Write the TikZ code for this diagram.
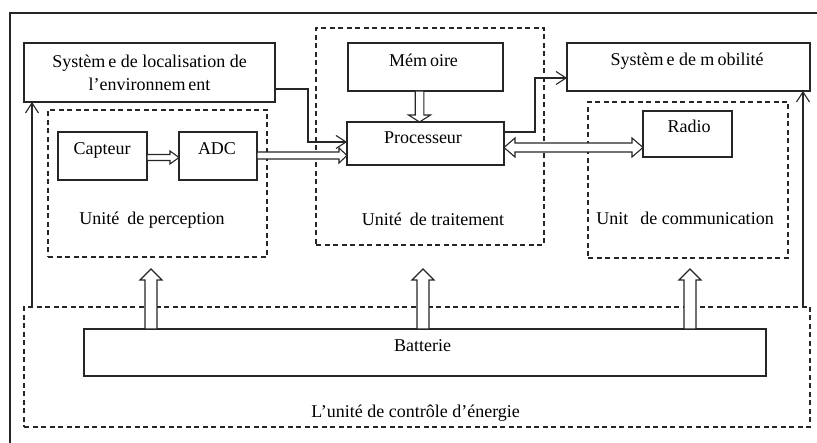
\documentclass[tikz,border=0pt]{standalone}
\usepackage{fontspec}
\setmainfont{Liberation Serif}
\usetikzlibrary{arrows.meta,calc}

\definecolor{ink}{HTML}{262626}

% small extra gap after some letters, as set in the figure
\newcommand\mg{\kern3pt}

% hollow block arrows: #1 tail, #2 tip, #3 shaft half width, #4 head half width, #5 head length
\newcommand\hollowR[5]{\draw[hol] ($#1+(0,-#3)$) -- ($#2+(-#5,-#3)$) -- ($#2+(-#5,-#4)$) -- #2 -- ($#2+(-#5,#4)$) -- ($#2+(-#5,#3)$) -- ($#1+(0,#3)$) -- cycle;}
\newcommand\hollowU[5]{\draw[hol] ($#1+(-#3,0)$) -- ($#2+(-#3,#5)$) -- ($#2+(-#4,#5)$) -- #2 -- ($#2+(#4,#5)$) -- ($#2+(#3,#5)$) -- ($#1+(#3,0)$) -- cycle;}
\newcommand\hollowD[5]{\draw[hol] ($#1+(-#3,0)$) -- ($#2+(-#3,-#5)$) -- ($#2+(-#4,-#5)$) -- #2 -- ($#2+(#4,-#5)$) -- ($#2+(#3,-#5)$) -- ($#1+(#3,0)$) -- cycle;}
% double-headed: #1 left tip, #2 right tip
\newcommand\hollowLR[5]{\draw[hol] #1 -- ($#1+(#5,-#4)$) -- ($#1+(#5,-#3)$) -- ($#2+(-#5,-#3)$) -- ($#2+(-#5,-#4)$) -- #2 -- ($#2+(-#5,#4)$) -- ($#2+(-#5,#3)$) -- ($#1+(#5,#3)$) -- ($#1+(#5,#4)$) -- cycle;}

\begin{document}
\begin{tikzpicture}[x=1pt,y=-1pt,
  every node/.style={inner sep=0pt, outer sep=0pt},
  box/.style={draw=ink, line width=1.1pt, fill=white, text=black},
  unit/.style={draw=ink, line width=1.1pt, dash pattern=on 5pt off 3.5pt},
  txt/.style={anchor=base, text=black},
  arr/.style={draw=ink, line width=1.1pt, -{Straight Barb[length=10pt,width=13pt]}},
  hol/.style={draw=ink, line width=1.1pt, fill=white, line join=miter},
  font=\fontsize{18}{23.3}\selectfont]

\useasboundingbox (0,0) rectangle (817,443);

% outer frame (runs past the right and bottom edges)
\begin{scope}
  \clip (0,0) rectangle (817,443);
  \draw[draw=ink, line width=1.1pt] (10,13) rectangle (840,470);
\end{scope}

% functional units (dashed)
\node[unit, minimum width=219, minimum height=147] (perc)   at (157.5,183.5) {};
\node[unit, minimum width=228, minimum height=217] (trait)  at (430,136.5) {};
\node[unit, minimum width=200, minimum height=156] (comm)   at (688,180) {};
\node[unit, minimum width=786, minimum height=120] (energy) at (417,367) {};

% blocks
\node[box, minimum width=251, minimum height=59, align=center] (loc) at (149.5,72.5)
  {Systèm\mg e de localisation de\\l’environnem\mg ent};
\node[box, minimum width=89,  minimum height=48] (cap)   at (102.5,156) {};
\node[box, minimum width=78,  minimum height=48] (adc)   at (218,156) {};
\node[box, minimum width=155, minimum height=48] (mem)   at (425.5,67) {};
\node[box, minimum width=157, minimum height=43] (proc)  at (425.5,143.5) {};
\node[box, minimum width=243, minimum height=48] (mob)   at (688.5,67) {};
\node[box, minimum width=89,  minimum height=46] (radio) at (687.5,134) {};
\node[box, minimum width=682, minimum height=47] (bat)   at (425,352.5) {};

% labels
\node[txt] (capT)   at (102,154.3)   {Capteur};
\node[txt] (adcT)   at (217,154.3)   {ADC};
\node[txt] (memT)   at (423.5,66.7)  {Mém\mg oire};
\node[txt] (procT)  at (423,143.3)   {Processeur};
\node[txt] (mobT)   at (687,65.7)    {Systèm\mg e de m\mg obilité};
\node[txt] (radioT) at (689,132.7)   {Radio};
\node[txt] (percT)  at (152,224.5)   {Unité\kern3.5pt{} de perception};
\node[txt] (traitT) at (433,225.5)   {Unité\kern3.5pt{} de traitement};
\node[txt] (commT)  at (685,225)     {Unit\kern7.5pt{} de communication};
\node[txt] (batT)   at (422.5,351.7) {Batterie};
\node[txt] (enerT)  at (415.7,417.3) {L’unité de contrôle d’énergie};

% single-line connectors
\coordinate (l1) at ($(loc.south east)+(0,-13)$);
\draw[arr] (l1) -| ($(proc.west)+(-39,-1.5)$) -- ($(proc.west)+(0,-1.5)$);
\draw[arr] ($(proc.east)+(0,-11.5)$) -| ($(mob.west)+(-32,11)$) -- ($(mob.west)+(0,11)$);
\draw[arr] ($(energy.north west)+(8,0)$) -- ($(loc.south west)+(8,0)$);
\draw[arr] ($(energy.north east)+(-7,0)$) -- ($(mob.south east)+(-7,0)$);

% hollow data arrows
\coordinate (c1) at ($(cap.east)+(0,1.5)$);
\coordinate (c2) at ($(adc.west)+(0,1.5)$);
\hollowR{(c1)}{(c2)}{3}{6.5}{9}
\coordinate (a1) at ($(adc.east)+(0,-0.5)$);
\coordinate (a2) at (proc.west |- a1);
\hollowR{(a1)}{(a2)}{3.5}{7.5}{8}
\coordinate (m1) at ($(mem.south)+(-6,0)$);
\coordinate (m2) at ($(proc.north)+(-6,0)$);
\hollowD{(m1)}{(m2)}{4.3}{11}{7}
\coordinate (r1) at ($(proc.east)+(0,4)$);
\coordinate (r2) at (radio.west |- r1);
\hollowLR{(r1)}{(r2)}{4.5}{9.5}{11}

% power feeds from the battery
\coordinate (up1) at (151,269);
\coordinate (up2) at (423,269);
\coordinate (up3) at (690,269);
\foreach \k in {1,2,3}{
  \coordinate (b\k) at (bat.north -| up\k);
  \hollowU{(b\k)}{(up\k)}{6}{11}{11}
}
\end{tikzpicture}
\end{document}
